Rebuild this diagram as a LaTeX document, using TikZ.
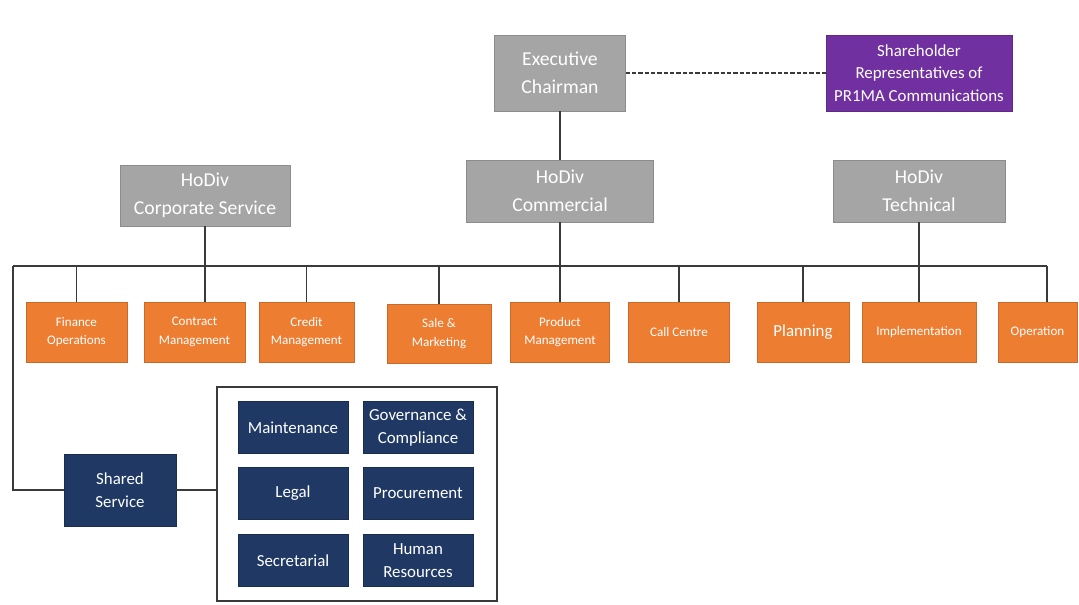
\documentclass[tikz,border=0pt]{standalone}
\usepackage{fontspec}
\setmainfont{Carlito}
\definecolor{hodivgrey}{HTML}{A5A5A5}
\definecolor{boardpurple}{HTML}{7030A0}
\definecolor{unitorange}{HTML}{ED7D31}
\definecolor{sharednavy}{HTML}{1F3864}
\definecolor{linkgrey}{HTML}{3A3A3A}

\begin{document}
\begin{tikzpicture}[x=0.025cm, y=-0.025cm,
    head/.style={fill=hodivgrey, draw=hodivgrey!85!black, text=white, align=center, inner sep=0pt, font=\fontsize{14}{20}\selectfont},
    board/.style={fill=boardpurple, draw=boardpurple!85!black, text=white, align=center, inner sep=0pt, minimum width=4.65cm, minimum height=1.9cm, font=\fontsize{12}{16}\selectfont},
    unit/.style={fill=unitorange, draw=unitorange!85!black, text=white, align=center, inner sep=0pt, minimum height=1.5cm, font=\fontsize{9.3}{13}\selectfont},
    shared/.style={fill=sharednavy, draw=sharednavy!80!black, text=white, align=center, inner sep=0pt, font=\fontsize{12}{16}\selectfont},
    sub/.style={shared, minimum width=2.75cm, minimum height=1.3cm},
    link/.style={draw=linkgrey, line width=0.8pt}]
    \useasboundingbox (0,0) rectangle (1079,605);

    % top level
    \node[head, minimum width=3.275cm, minimum height=1.9cm] (exec) at (560,73) {Executive\\Chairman};
    \node[board] (share) at (919,73) {Shareholder\\Representatives of\\PR1MA Communications};

    % divisions
    \node[head, minimum width=4.25cm, minimum height=1.525cm] (corp) at (205,195.5) {HoDiv\\Corporate Service};
    \node[head, minimum width=4.675cm, minimum height=1.55cm] (comm) at (560,191) {HoDiv\\Commercial};
    \node[head, minimum width=4.3cm, minimum height=1.55cm] (tech) at (919,191) {HoDiv\\Technical};

    % units
    \node[unit, minimum width=2.525cm] (fin) at (76.5,332) {Finance\\Operations};
    \node[unit, minimum width=2.525cm] (con) at (194.5,332) {Contract\\Management};
    \node[unit, minimum width=2.375cm] (cre) at (306.5,332) {Credit\\Management};
    \node[unit, minimum width=2.6cm, minimum height=1.475cm] (sal) at (439,333.5) {Sale \&\\Marketing};
    \node[unit, minimum width=2.475cm] (pro) at (560,332) {Product\\Management};
    \node[unit, minimum width=2.525cm] (cal) at (679,332) {Call Centre};
    \node[unit, minimum width=2.3cm, font=\fontsize{12}{15}\selectfont] (pla) at (803,332) {Planning};
    \node[unit, minimum width=2.85cm] (imp) at (919,332) {Implementation};
    \node[unit, minimum width=1.975cm] (ope) at (1037.5,332) {Operation};

    % shared service
    \node[shared, minimum width=2.8cm, minimum height=1.8cm] (ss) at (120,490) {Shared\\Service};
    \node[draw=linkgrey, line width=0.8pt, minimum width=7cm, minimum height=5.35cm] (pool) at (357,494) {};
    \node[sub] (mnt) at (293,427.5) {Maintenance};
    \node[sub] (gov) at (418,427.5) {Governance \&\\Compliance};
    \node[sub] (leg) at (293,493.5) {Legal};
    \node[sub] (prc) at (418,493.5) {Procurement};
    \node[sub] (sec) at (293,560.5) {Secretarial};
    \node[sub] (hr) at (418,560.5) {Human\\Resources};

    % connectors
    \coordinate (busL) at (13,266);
    \coordinate (busR) at (1047,266);
    \draw[link, dashed, dash pattern=on 3pt off 1.5pt] (exec) -- (share);
    \draw[link] (exec) -- (comm);
    \draw[link] (comm) -- (pro);
    \draw[link] (corp.south) -- (corp.south |- con.north);
    \draw[link] (tech) -- (imp);
    \draw[link] (busL) -- (busR);
    \draw[link] (fin.north |- busL) -- (fin.north);
    \draw[link] (cre.north |- busL) -- (cre.north);
    \draw[link] (sal.north |- busL) -- (sal.north);
    \draw[link] (cal.north |- busL) -- (cal.north);
    \draw[link] (pla.north |- busL) -- (pla.north);
    \draw[link] (busR) -- (busR |- ope.north);
    \draw[link] (busL) |- (ss);
    \draw[link] (ss.east) -- (ss.east -| pool.west);
\end{tikzpicture}
\end{document}
